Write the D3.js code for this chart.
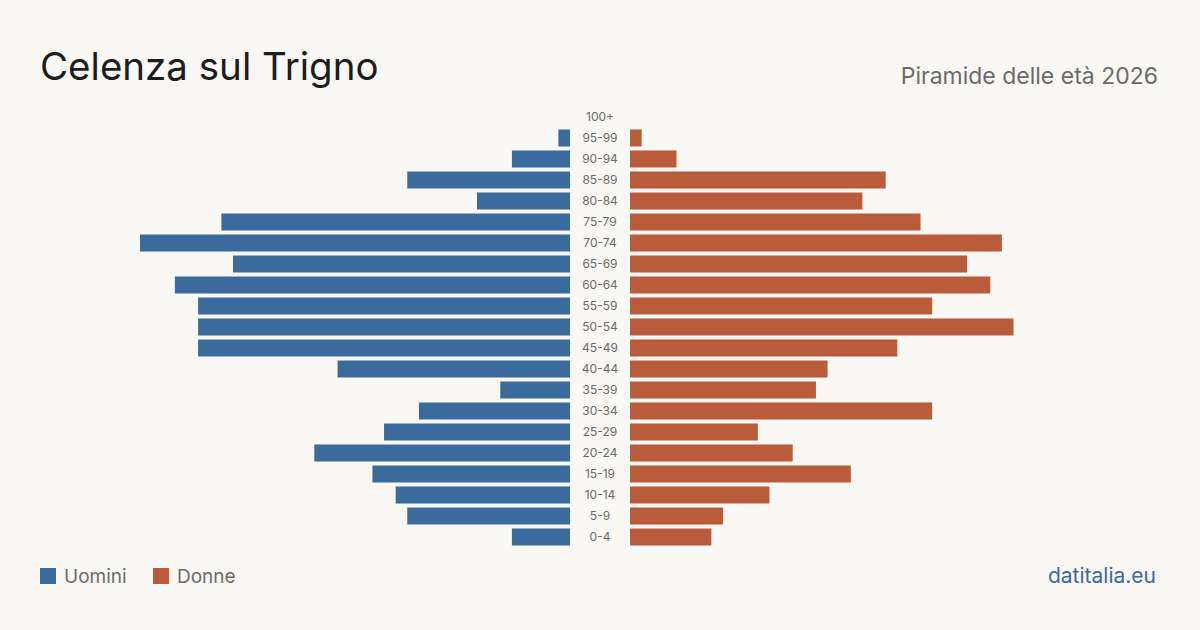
<!DOCTYPE html>
<html lang="it">
<head>
<meta charset="utf-8">
<style>
body { margin:0; background:#f9f8f4; }
svg { display:block; font-family: Inter, "Noto Sans", sans-serif; }
</style>
<script src="https://cdn.jsdelivr.net/npm/d3@7/dist/d3.min.js"></script>
</head>
<body>
<div id="chart"></div>
<script>
// classi d'età, dall'alto in basso
var ageGroups = ["100+","95-99","90-94","85-89","80-84","75-79","70-74","65-69","60-64","55-59",
  "50-54","45-49","40-44","35-39","30-34","25-29","20-24","15-19","10-14","5-9","0-4"]
var uomini = [0,1,5,14,8,30,37,29,34,32,32,32,20,6,13,16,22,17,15,14,5]
var donne  = [0,1,4,22,20,25,32,29,31,26,33,23,17,16,26,11,14,19,12,8,7]

var width = 1200, height = 630
var blue = "#3b6a9c", red = "#b85c3c"

var svg = d3.select("#chart").append("svg")
    .attr("width", width)
    .attr("height", height)

svg.append("rect").attr("width", width).attr("height", height).attr("fill", "#f9f8f4")

var maxV = d3.max(uomini.concat(donne))

var y = d3.scaleBand()
    .domain(ageGroups)
    .range([106.5, 547.5])
    .paddingInner(0.19)
    .paddingOuter(0.095)

var xL = d3.scaleLinear().domain([0, maxV]).range([570, 140])
var xR = d3.scaleLinear().domain([0, maxV]).range([630, 1060])

svg.append("g").selectAll("rect")
  .data(ageGroups)
  .enter().append("rect")
    .attr("x", function(d, i) { return xL(uomini[i]) })
    .attr("y", function(d) { return y(d) })
    .attr("width", function(d, i) { return xL(0) - xL(uomini[i]) })
    .attr("height", y.bandwidth())
    .attr("fill", blue)

svg.append("g").selectAll("rect")
  .data(ageGroups)
  .enter().append("rect")
    .attr("x", xR(0))
    .attr("y", function(d) { return y(d) })
    .attr("width", function(d, i) { return xR(donne[i]) - xR(0) })
    .attr("height", y.bandwidth())
    .attr("fill", red)

svg.append("g").selectAll("text")
  .data(ageGroups)
  .enter().append("text")
    .attr("x", 600)
    .attr("y", function(d) { return y(d) + y.bandwidth() / 2 })
    .attr("dy", "0.35em")
    .attr("text-anchor", "middle")
    .attr("font-size", 12)
    .attr("fill", "#6b6b6b")
    .text(function(d) { return d })

// titoli
svg.append("text")
    .attr("x", 40).attr("y", 80)
    .attr("font-size", 38.5)
    .attr("fill", "#1c1c1c")
    .text("Celenza sul Trigno")

svg.append("text")
    .attr("x", 1158).attr("y", 84)
    .attr("text-anchor", "end")
    .attr("font-size", 23)
    .attr("fill", "#6b6b6b")
    .text("Piramide delle età 2026")

// legenda
var legend = [{label: "Uomini", color: blue, x: 40}, {label: "Donne", color: red, x: 153}]
var lg = svg.append("g").selectAll("g").data(legend).enter().append("g")
lg.append("rect")
    .attr("x", function(d) { return d.x })
    .attr("y", 568)
    .attr("width", 16).attr("height", 16)
    .attr("fill", function(d) { return d.color })
lg.append("text")
    .attr("x", function(d) { return d.x + 24 })
    .attr("y", 583)
    .attr("font-size", 19)
    .attr("fill", "#6b6b6b")
    .text(function(d) { return d.label })

svg.append("text")
    .attr("x", 1156).attr("y", 583)
    .attr("text-anchor", "end")
    .attr("font-size", 21)
    .attr("fill", blue)
    .text("datitalia.eu")
</script>
</body>
</html>
